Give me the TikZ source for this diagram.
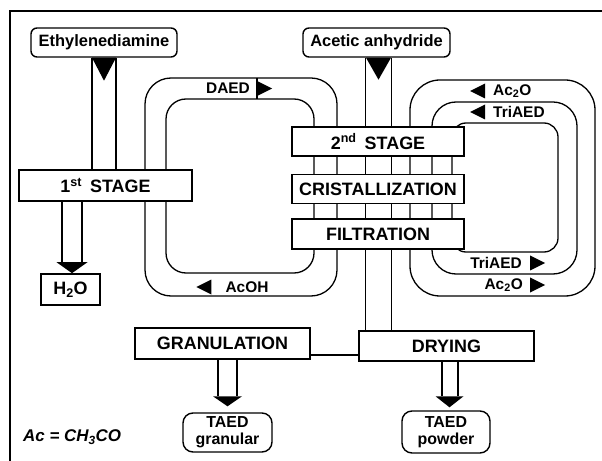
\documentclass[tikz,border=0pt]{standalone}
\usepackage{fontspec}
\setmainfont{Liberation Sans}
\usetikzlibrary{positioning,backgrounds}

\tikzset{
  stagebox/.style={draw, fill=white, line width=1.6bp, inner sep=0pt,
    font=\fontsize{18}{20}\selectfont\bfseries},
  feedbox/.style={draw, fill=white, line width=1.4bp, inner sep=0pt,
    rounded corners=6bp, font=\fontsize{16.5}{18}\selectfont\bfseries},
  prodbox/.style={feedbox, rounded corners=10bp, align=center,
    font=\fontsize{16}{17}\selectfont\bfseries},
  flowlbl/.style={inner sep=0pt, font=\fontsize{15.5}{17}\selectfont\bfseries},
  pipe/.style={line width=1.3bp},
}

% big arrow head at the end of a pipe
\newcommand{\downtip}[3]{\fill (#1) ++(-#2,0) -- ++(2*#2,0) -- ++(-#2,#3) -- cycle;}
% small flow direction marks
\newcommand{\lefttip}[1]{\fill (#1) ++(0,-7.5) -- ++(-15,7.5) -- ++(15,7.5) -- cycle;}
\newcommand{\righttip}[1]{\fill (#1) ++(0,-7.5) -- ++(15,7.5) -- ++(-15,7.5) -- cycle;}

\begin{document}
\begin{tikzpicture}[x=1bp, y=-1bp]
        \useasboundingbox (0,0) rectangle (602,461);

        % NODES
        % -----------------

        \node[feedbox, minimum width=146bp, minimum height=29bp] (eda) at (104,42.5) {Ethylenediamine};
        \node[feedbox, minimum width=147bp, minimum height=29bp] (acanh) at (376.5,42.5) {Acetic anhydride};

        \node[stagebox, minimum width=173bp, minimum height=31bp] (stage1) at (105.5,185.5) {1\textsuperscript{st}\hspace{0.45em}STAGE};
        \node[stagebox, minimum width=59bp, minimum height=31bp] (water) at (70.5,289.5) {H\textsubscript{2}O};

        \node[stagebox, minimum width=172bp, minimum height=29bp] (stage2) at (378,141.5) {2\textsuperscript{nd}\hspace{0.45em}STAGE};
        \node[stagebox, minimum width=172bp, minimum height=29bp, below=17bp of stage2] (cryst) {CRISTALLIZATION};
        \node[stagebox, minimum width=172bp, minimum height=30bp, below=14bp of cryst] (filtr) {FILTRATION};

        \node[stagebox, minimum width=175bp, minimum height=31bp] (granul) at (222.5,343.5) {GRANULATION};
        \node[stagebox, minimum width=175bp, minimum height=30bp] (drying) at (446.5,346) {DRYING};

        \node[prodbox, minimum width=89bp, minimum height=39bp] (taedgran) at (227.5,432.5) {TAED\\granular};
        \node[prodbox, minimum width=88bp, minimum height=42bp] (taedpow) at (446,432) {TAED\\powder};

        \node[anchor=west, inner sep=0pt, font=\fontsize{17}{19}\selectfont\bfseries\itshape] (acdef) at (23,437) {Ac = CH\textsubscript{3}CO};

        % stream labels
        \node[flowlbl] (daed) at (228,88.5) {DAED};
        \node[flowlbl] (acoh) at (247,287) {AcOH};
        \node[flowlbl, anchor=west] (ac2o_in) at (493,91) {Ac\textsubscript{2}O};
        \node[flowlbl, anchor=west] (tri_in) at (493,112) {TriAED};
        \node[flowlbl, anchor=east] (tri_out) at (522,263) {TriAED};
        \node[flowlbl, anchor=east] (ac2o_out) at (523,285) {Ac\textsubscript{2}O};

        % PIPES
        % -----------------

        \begin{scope}[on background layer]
        % frame
        \draw[line width=1.4bp] (10,461) -- (10,11) -- (602,11);

        % feeds
        \draw[pipe] ([xshift=-12bp]eda.south) -- ([xshift=-12bp]eda.south |- stage1.north);
        \draw[pipe] ([xshift=12bp]eda.south) -- ([xshift=12bp]eda.south |- stage1.north);
        \draw[pipe] ([xshift=-11bp]acanh.south) -- ([xshift=-11bp]acanh.south |- drying.north);
        \draw[pipe] ([xshift=15bp]acanh.south) -- ([xshift=15bp]acanh.south |- drying.north);

        % DAED / AcOH loop
        \draw[pipe, rounded corners=26bp] (145,78) rectangle (337,296);
        \draw[pipe, rounded corners=20bp] (166,99) rectangle (314,273);

        % Ac2O / TriAED loop
        \draw[pipe, rounded corners=30bp] (410,80) rectangle (595,296);
        \draw[pipe, rounded corners=24bp] (432,102) rectangle (577,274);
        \draw[pipe, rounded corners=14bp] (452,123) rectangle (558,252);

        % water out
        \draw[pipe] ([xshift=-43.5bp]stage1.south) -- ([xshift=-43.5bp, yshift=11bp]stage1.south |- water.north);
        \draw[pipe] ([xshift=-23.5bp]stage1.south) -- ([xshift=-23.5bp, yshift=11bp]stage1.south |- water.north);

        % products
        \draw[pipe] ([yshift=-11.5bp]granul.east) -- ([yshift=-11.5bp]granul.east -| drying.west);
        \draw[pipe] ([xshift=-4.5bp]granul.south) -- ([xshift=-4.5bp, yshift=16bp]granul.south |- taedgran.north);
        \draw[pipe] ([xshift=14.5bp]granul.south) -- ([xshift=14.5bp, yshift=16bp]granul.south |- taedgran.north);
        \draw[pipe] ([xshift=-4.5bp]drying.south) -- ([xshift=-4.5bp, yshift=14bp]drying.south |- taedpow.north);
        \draw[pipe] ([xshift=11.5bp]drying.south) -- ([xshift=11.5bp, yshift=14bp]drying.south |- taedpow.north);
        \end{scope}

        % ARROW HEADS
        % -----------------

        \downtip{eda.south}{12}{23}
        \downtip{[xshift=2bp]acanh.south}{12.5}{22}
        \downtip{[xshift=-33.5bp, yshift=11bp]stage1.south |- water.north}{15.5}{11}
        \downtip{[xshift=5bp, yshift=16bp]granul.south |- taedgran.north}{14.5}{10}
        \downtip{[xshift=3bp, yshift=14bp]drying.south |- taedpow.north}{14}{11}

        \righttip{[xshift=7bp]daed.east}
        \draw[pipe] ([xshift=7bp, yshift=10.5bp]daed.east) -- ([xshift=7bp, yshift=-10.5bp]daed.east);
        \lefttip{[xshift=-14bp]acoh.west}
        \lefttip{[xshift=-8bp]ac2o_in.west}
        \lefttip{[xshift=-8bp]tri_in.west}
        \righttip{[xshift=8bp]tri_out.east}
        \righttip{[xshift=7bp]ac2o_out.east}

\end{tikzpicture}
\end{document}
